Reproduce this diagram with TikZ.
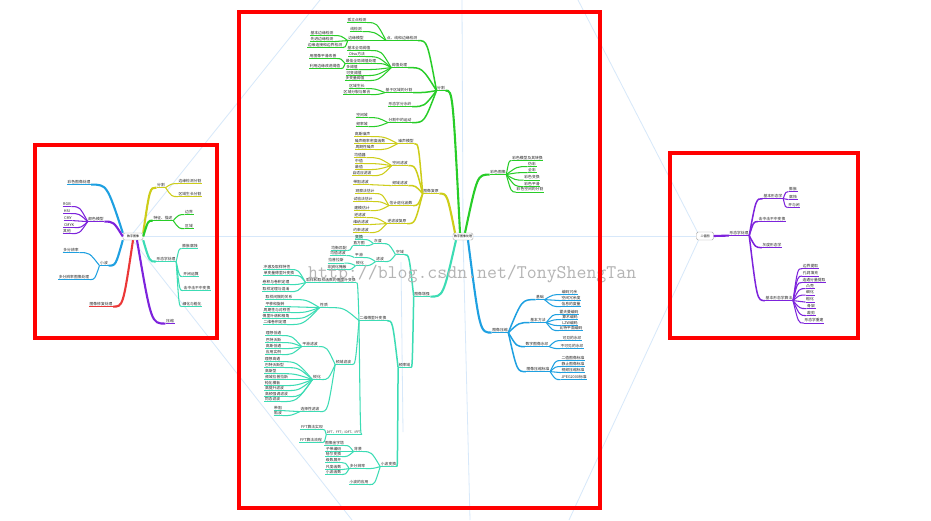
\documentclass[tikz,border=0pt]{standalone}
\usepackage{fontspec}
\usepackage{tikz}
\usetikzlibrary{calc}
\newfontfamily\cjk{Noto Sans CJK SC}
\newcommand\tpfont{\cjk\fontsize{3.8}{4}\selectfont}
\newcommand\rtfont{\cjk\fontsize{3}{3.5}\selectfont}
\definecolor{cgrn}{RGB}{40,205,40}
\definecolor{cyel}{RGB}{205,205,25}
\definecolor{ctea}{RGB}{60,220,180}
\definecolor{cblu}{RGB}{30,160,225}
\definecolor{cpur}{RGB}{125,35,220}
\definecolor{cred}{RGB}{235,55,55}
\definecolor{cwat}{RGB}{215,232,250}
\definecolor{cwmk}{RGB}{180,180,180}
\definecolor{cfrm}{RGB}{255,0,0}
\tikzset{
	tp/.style={inner sep=0.5pt, text height=3.2pt, text depth=0.6pt, font=\tpfont, text=black!85,
		append after command={(\tikzlastnode.south west) edge[draw=#1, line width=1.1pt] (\tikzlastnode.south east)}},
	rbox/.style={draw=black!35, fill=white, rounded corners=1.5pt, font=\rtfont, inner sep=1pt, minimum width=20pt, minimum height=7pt},
	ln/.style={draw=#1, line width=1.05pt},
	lm/.style={draw=#1, line width=1.5pt},
	lr/.style={draw=#1, line width=2.1pt},
	fan/.style={to path={let \p1=(\tikztostart), \p2=(\tikztotarget) in .. controls ({\x1+#1*(\x2-\x1)},\y2) .. (\tikztotarget)}},
	fan/.default=0.5,
	wm/.style={draw=cwat, line width=0.8pt},
	frm/.style={draw=cfrm, line width=4pt}
}
\begin{document}
\begin{tikzpicture}[x=1pt,y=-1pt]
	\fill[white] (0,0) rectangle (931,520);
	\useasboundingbox (0,0) rectangle (931,520);
	\draw[wm] (143,236) -- (696,236);
	\draw[wm] (462,0) -- (463,236) -- (470,520);
	\draw[wm] (401,262) -- (403,432);
	\draw[wm] (320,0) -- (130,237) -- (352,520);
	\draw[wm] (578,0) -- (700,237) -- (569,520);

	\node[rbox] (lrt) at (133,236.5) {数字图像};
	\node[tp=cyel] (lfg) at (161,185) {分割};
	\node[tp=cyel] (lby) at (190,181) {边缘检测分割};
	\node[tp=cyel] (lqy) at (190,194) {区域生长分割};
	\node[tp=cgrn] (ltz) at (163,218) {特征、描述};
	\node[tp=cgrn] (lbj) at (189,212) {边界};
	\node[tp=cgrn] (lqu) at (189,226) {区域};
	\node[tp=ctea] (lxt) at (166,259) {形态学处理};
	\node[tp=ctea] (lpz) at (190,246) {膨胀腐蚀};
	\node[tp=ctea] (lkb) at (191,274) {开闭运算};
	\node[tp=ctea] (ljz) at (197,288) {击中击不中变换};
	\node[tp=ctea] (ltq) at (192,304) {细化与粗化};
	\node[tp=cpur] (lys) at (170,321) {压缩};
	\node[tp=cblu] (lcs) at (79,182) {彩色图像处理};
	\node[tp=cpur] (lmx) at (96,219) {颜色模型};
	\node[tp=cpur] (lm1) at (67,204) {RGB};
	\node[tp=cpur] (lm2) at (67,211) {HSI};
	\node[tp=cpur] (lm3) at (68,218) {CMY};
	\node[tp=cpur] (lm4) at (69,225) {CMYK};
	\node[tp=cpur] (lm5) at (67,231) {其他};
	\node[tp=cblu] (lxb) at (104,263) {小波};
	\node[tp=cblu] (lx1) at (71,250) {多分辨率};
	\node[tp=cblu] (lx2) at (74,277) {多分辨率图像处理};
	\node[tp=cred] (lxf) at (101,304) {图像修复处理};

	\node[rbox, minimum width=17pt, minimum height=8pt] (rrt) at (705,236) {二值图};
	\node[tp=cpur] (rxt) at (739,233) {形态学处理};
	\node[tp=cpur] (rjb) at (773,196) {基本形态学};
	\node[tp=cpur] (rpz) at (793,189) {膨胀};
	\node[tp=cpur] (rfs) at (793,197) {腐蚀};
	\node[tp=cpur] (rkb) at (794,205) {开与闭};
	\node[tp=cpur] (rjz) at (772,219) {击中击不中变换};
	\node[tp=cpur] (rbt) at (772,245) {灰度形态学};
	\node[tp=cpur] (rsf) at (779,298) {基本形态学算法};
	\node[tp=cpur] (rs1) at (810.5,266) {边界提取};
	\node[tp=cpur] (rs2) at (810.5,273.5) {孔洞填充};
	\node[tp=cpur] (rs3) at (814,280) {连通分量提取};
	\node[tp=cpur] (rs4) at (810,286) {凸壳};
	\node[tp=cpur] (rs5) at (810,292.5) {细化};
	\node[tp=cpur] (rs6) at (810,299.5) {粗化};
	\node[tp=cpur] (rs7) at (811,306) {骨架};
	\node[tp=cpur] (rs8) at (811,313) {裁剪};
	\node[tp=cpur] (rs9) at (814,320.5) {形态学重建};

	\node[rbox] (crt) at (463,236.5) {数字图像处理};
	\node[tp=cgrn] (cfg) at (441,88) {分割};
	\node[tp=cgrn] (cdx) at (402,38) {点、线和边缘检测};
	\node[tp=cgrn] (cgl) at (357,20) {孤立点检测};
	\node[tp=cgrn] (cxj) at (356,29) {线检测};
	\node[tp=cgrn] (cby) at (356,38) {边缘模型};
	\node[tp=cgrn] (cb1) at (322,33) {基本边缘检测};
	\node[tp=cgrn] (cb2) at (322,39) {先进边缘检测};
	\node[tp=cgrn] (cb3) at (325,45) {边缘连接和边界检测};
	\node[tp=cgrn] (cyz) at (399.5,65) {阈值处理};
	\node[tp=cgrn] (cy1) at (359,48) {基本全局阈值};
	\node[tp=cgrn] (cy2) at (357,54) {Otsu方法};
	\node[tp=cgrn] (cy3) at (361,61) {最佳全局阈值处理};
	\node[tp=cgrn] (cy4) at (323,56) {用图像平滑改善};
	\node[tp=cgrn] (cy5) at (325,66) {利用边缘改进阈值};
	\node[tp=cgrn] (cy6) at (352,67) {多阈值};
	\node[tp=cgrn] (cy7) at (354,73) {可变阈值};
	\node[tp=cgrn] (cy8) at (355,78) {多变量阈值};
	\node[tp=cgrn] (cqy) at (399,90) {基于区域的分割};
	\node[tp=cgrn] (cq1) at (357,86) {区域生长};
	\node[tp=cgrn] (cq2) at (357,92) {区域分裂与聚合};
	\node[tp=cgrn] (cfs) at (400,104) {形态学分水岭};
	\node[tp=cgrn] (cyd) at (400,120) {分割中的运动};
	\node[tp=cgrn] (cd1) at (362,115) {空间域};
	\node[tp=cgrn] (cd2) at (362,124) {频率域};

	\node[tp=cyel] (cfy) at (431,191) {图像复原};
	\node[tp=cyel] (cz0) at (406,141) {噪声模型};
	\node[tp=cyel] (cz1) at (362.5,134) {高斯噪声};
	\node[tp=cyel] (cz2) at (370,141) {噪声概率密度函数};
	\node[tp=cyel] (cz3) at (365,147) {周期性噪声};
	\node[tp=cyel] (cz4) at (400,163) {空间滤波};
	\node[tp=cyel] (cz5) at (360,155) {均值器};
	\node[tp=cyel] (cz6) at (359,161) {中值};
	\node[tp=cyel] (cz7) at (359,167) {最值};
	\node[tp=cyel] (cz8) at (362,173) {自适应滤波};
	\node[tp=cyel] (czp) at (400,183) {频域滤波};
	\node[tp=cyel] (cz9) at (361,182) {带阻滤波};
	\node[tp=cyel] (czg) at (401,203) {估计退化函数};
	\node[tp=cyel] (cg1) at (365,191) {观察法估计};
	\node[tp=cyel] (cg2) at (363,199) {试验法估计};
	\node[tp=cyel] (cg3) at (362,208) {建模估计};
	\node[tp=cyel] (cnl) at (397,221) {逆滤波复原};
	\node[tp=cyel] (cn1) at (360,215) {逆滤波};
	\node[tp=cyel] (cn2) at (361,222) {维纳滤波};
	\node[tp=cyel] (cn3) at (361,230) {约束滤波};

	\node[tp=ctea] (czq) at (422,294) {图像增强};
	\node[tp=ctea] (ckd) at (400,252) {空域};
	\node[tp=ctea] (chd) at (378,241) {灰度};
	\node[tp=ctea, fill=ctea!35] (ch1) at (359,237) {变换};
	\node[tp=ctea] (ch2) at (359,243) {直方图};
	\node[tp=ctea] (ch3) at (339,248) {均衡匹配};
	\node[tp=ctea] (clb) at (380,259) {滤波};
	\node[tp=ctea] (cph) at (359,255) {平滑};
	\node[tp=ctea] (cp1) at (338,253) {均值滤波};
	\node[tp=ctea] (crh) at (360,263) {锐化};
	\node[tp=ctea] (cr1) at (336,260.5) {拉普拉斯};
	\node[tp=ctea] (cr2) at (337,267) {非锐化掩蔽};
	\node[tp=ctea] (cpy) at (404.5,365) {频率域};
	\node[tp=ctea] (cef) at (373,318) {二维傅里叶变换};
	\node[tp=ctea] (ccy) at (331,280) {取样和取样函数的傅里叶变换};
	\node[tp=ctea] (cc1) at (277,267) {冲激及取样特性};
	\node[tp=ctea] (cc2) at (279,273) {单变量傅里叶变换};
	\node[tp=ctea] (cc3) at (276,282) {卷积与卷积定理};
	\node[tp=ctea] (cc4) at (276,289) {取样定理与混淆};
	\node[tp=ctea] (cxz) at (324,305) {性质};
	\node[tp=ctea] (cx1) at (279,297) {取样间隔的关系};
	\node[tp=ctea] (cx2) at (275,304) {平移和旋转};
	\node[tp=ctea] (cx3) at (277,310) {周期性与对称性};
	\node[tp=ctea] (cx4) at (276,316) {傅里叶谱和相角};
	\node[tp=ctea] (cx5) at (275,322) {二维卷积定理};
	\node[tp=ctea] (clt) at (343.5,362) {频域滤波};
	\node[tp=ctea] (cfp) at (310,344) {平滑滤波};
	\node[tp=ctea] (cf1) at (273.5,333) {理想低通};
	\node[tp=ctea] (cf2) at (273.5,340) {巴特沃斯};
	\node[tp=ctea] (cf3) at (273.5,346) {高斯低通};
	\node[tp=ctea] (cf4) at (273.5,352) {应用实例};
	\node[tp=ctea] (cfr) at (317,377) {锐化};
	\node[tp=ctea] (cs1) at (272.5,359) {理想高通};
	\node[tp=ctea] (cs2) at (274.5,365) {巴特沃斯型};
	\node[tp=ctea] (cs3) at (270.7,371) {高斯型};
	\node[tp=ctea] (cs4) at (276.5,377) {频域拉普拉斯};
	\node[tp=ctea] (cs5) at (272.5,383) {钝化模板};
	\node[tp=ctea] (cs6) at (274.5,388) {高提升滤波};
	\node[tp=ctea] (cs7) at (276.5,394) {高频强调滤波};
	\node[tp=ctea] (cs8) at (272.5,399) {同态滤波};
	\node[tp=ctea] (cxx) at (310,409) {选择性滤波};
	\node[tp=ctea] (cv1) at (278,408) {带阻};
	\node[tp=ctea] (cv2) at (278,413) {陷波};
	\node[tp=ctea, font=\cjk\fontsize{3.2}{3.5}\selectfont] (cdf) at (344,432) {DFT、FFT；IDFT、IFFT};
	\node[tp=ctea] (ft1) at (312,427) {FFT算法实现};
	\node[tp=ctea] (ft2) at (311,440) {FFT算法流程};
	\node[tp=ctea] (cxb) at (388.5,464) {小波变换};
	\node[tp=ctea] (cbj) at (358,449) {背景};
	\node[tp=ctea] (cw1) at (334.5,443) {图像金字塔};
	\node[tp=ctea] (cw2) at (333.5,449) {子带编码};
	\node[tp=ctea] (cw3) at (333.5,454) {哈尔变换};
	\node[tp=ctea] (cdb) at (357.5,466) {多分辨率};
	\node[tp=ctea] (cw4) at (333.5,460) {级数展开};
	\node[tp=ctea] (cw5) at (333.5,467) {尺度函数};
	\node[tp=ctea] (cw6) at (333.5,472) {小波函数};
	\node[tp=ctea] (cyy) at (359,482) {小波的应用};

	\node[tp=cgrn] (ccs) at (498,172) {彩色图像};
	\node[tp=cgrn] (cl1) at (527.5,158) {彩色模型及其转换};
	\node[tp=cgrn] (cl2) at (532,164) {伪彩};
	\node[tp=cgrn] (cl3) at (532,170) {全彩};
	\node[tp=cgrn] (cl4) at (532,177.5) {彩色变换};
	\node[tp=cgrn] (cl5) at (532,184) {彩色平滑};
	\node[tp=cgrn] (cl6) at (530,189.5) {彩色空间的分割};

	\node[tp=cblu] (cys) at (500,330) {图像压缩};
	\node[tp=cblu] (cjc) at (540,297) {基础};
	\node[tp=cblu] (cj1) at (569.5,292) {编码冗余};
	\node[tp=cblu] (cj2) at (571,298) {空间冗余度};
	\node[tp=cblu] (cj3) at (571,304) {信息的度量};
	\node[tp=cblu] (cff) at (538,320) {基本方法};
	\node[tp=cblu] (cm1) at (569,312) {霍夫曼编码};
	\node[tp=cblu] (cm2) at (570,317) {算术编码};
	\node[tp=cblu] (cm3) at (570,323) {LZW编码};
	\node[tp=cblu] (cm4) at (571,328) {比特平面编码};
	\node[tp=cblu] (csy) at (537,344) {数字图像水印};
	\node[tp=cblu] (sy1) at (572,338) {可见的水印};
	\node[tp=cblu] (sy2) at (572,346) {不可见的水印};
	\node[tp=cblu] (cbz) at (538,369) {图像压缩标准};
	\node[tp=cblu] (bz1) at (573,358) {二值图像标准};
	\node[tp=cblu] (bz2) at (573,364) {静止图像标准};
	\node[tp=cblu] (bz3) at (573,370) {视频压缩标准};
	\node[tp=cblu] (bz4) at (574,377) {JPEG2000标准};

	\draw[lr=cyel] (lrt.north east) to[fan] (lfg.south west);
	\draw[lr=cgrn] (lrt.east) to[fan] (ltz.south west);
	\draw[lr=ctea] (lrt.south east) to[fan] (lxt.south west);
	\draw[lr=cpur] ([xshift=4pt]lrt.south) to[fan] (lys.south west);
	\draw[lr=cblu] (lrt.north west) to[fan] (lcs.south east);
	\draw[lr=cpur] (lrt.west) to[fan] (lmx.south east);
	\draw[lr=cblu] (lrt.south west) to[fan] (lxb.south east);
	\draw[lr=cred] (lrt.south) to[fan] (lxf.south east);
	\foreach \c in {lby,lqy} \draw[ln=cyel] (lfg.south east) to[fan] (\c.south west);
	\foreach \c in {lbj,lqu} \draw[ln=cgrn] (ltz.south east) to[fan] (\c.south west);
	\foreach \c in {lpz,lkb,ljz,ltq} \draw[ln=ctea] (lxt.south east) to[fan] (\c.south west);
	\foreach \c in {lm1,lm2,lm3,lm4,lm5} \draw[ln=cpur] (lmx.south west) to[fan] (\c.south east);
	\foreach \c in {lx1,lx2} \draw[ln=cblu] (lxb.south west) to[fan] (\c.south east);

	\draw[lr=cpur] (rrt.east) -- (rxt.south west);
	\foreach \c in {rjb,rjz,rbt,rsf} \draw[lm=cpur] (rxt.south east) to[fan] (\c.south west);
	\foreach \c in {rpz,rfs,rkb} \draw[ln=cpur] (rjb.south east) to[fan] (\c.south west);
	\foreach \c in {rs1,rs2,rs3,rs4,rs5,rs6,rs7,rs8,rs9} \draw[ln=cpur] (rsf.south east) to[fan] (\c.south west);

	\draw[lr=cgrn] ([xshift=-3pt]crt.north) to[fan] (cfg.south east);
	\draw[lr=cyel] ([xshift=-8pt]crt.north) to[fan] (cfy.south east);
	\draw[lr=ctea] ([xshift=-7pt]crt.south) to[fan] (czq.south east);
	\draw[lr=cgrn] ([xshift=2pt]crt.north) to[fan] (ccs.south west);
	\draw[lr=cblu] ([xshift=5pt]crt.south) to[fan] (cys.south west);

	\foreach \c in {cdx,cyz,cqy,cfs,cyd} \draw[lm=cgrn] (cfg.south west) to[fan] (\c.south east);
	\foreach \c in {cgl,cxj,cby} \draw[ln=cgrn] (cdx.south west) to[fan] (\c.south east);
	\foreach \c in {cb1,cb2,cb3} \draw[ln=cgrn] (cby.south west) to[fan] (\c.south east);
	\foreach \c in {cy1,cy2,cy3,cy6,cy7,cy8} \draw[ln=cgrn] (cyz.south west) to[fan] (\c.south east);
	\foreach \c in {cy4,cy5} \draw[ln=cgrn] (cy3.south west) to[fan] (\c.south east);
	\foreach \c in {cq1,cq2} \draw[ln=cgrn] (cqy.south west) to[fan] (\c.south east);
	\foreach \c in {cd1,cd2} \draw[ln=cgrn] (cyd.south west) to[fan] (\c.south east);

	\foreach \c in {cz0,cz4,czp,czg,cnl} \draw[lm=cyel] (cfy.south west) to[fan] (\c.south east);
	\foreach \c in {cz1,cz2,cz3} \draw[ln=cyel] (cz0.south west) to[fan] (\c.south east);
	\foreach \c in {cz5,cz6,cz7,cz8} \draw[ln=cyel] (cz4.south west) to[fan] (\c.south east);
	\draw[ln=cyel] (czp.south west) to[fan] (cz9.south east);
	\foreach \c in {cg1,cg2,cg3} \draw[ln=cyel] (czg.south west) to[fan] (\c.south east);
	\foreach \c in {cn1,cn2,cn3} \draw[ln=cyel] (cnl.south west) to[fan] (\c.south east);

	\foreach \c in {ckd,cpy} \draw[lm=ctea] (czq.south west) to[fan] (\c.south east);
	\foreach \c in {chd,clb} \draw[ln=ctea] (ckd.south west) to[fan] (\c.south east);
	\foreach \c in {ch1,ch2} \draw[ln=ctea] (chd.south west) to[fan] (\c.south east);
	\draw[ln=ctea] (ch2.south west) to[fan] (ch3.south east);
	\foreach \c in {cph,crh} \draw[ln=ctea] (clb.south west) to[fan] (\c.south east);
	\draw[ln=ctea] (cph.south west) to[fan] (cp1.south east);
	\foreach \c in {cr1,cr2} \draw[ln=ctea] (crh.south west) to[fan] (\c.south east);
	\foreach \c in {cef,cxb} \draw[lm=ctea] (cpy.south west) to[fan] (\c.south east);
	\foreach \c in {ccy,cxz,clt,cdf} \draw[ln=ctea] (cef.south west) to[fan] (\c.south east);
	\foreach \c in {cc1,cc2,cc3,cc4} \draw[ln=ctea] (ccy.south west) to[fan] (\c.south east);
	\foreach \c in {cx1,cx2,cx3,cx4,cx5} \draw[ln=ctea] (cxz.south west) to[fan] (\c.south east);
	\foreach \c in {cfp,cfr,cxx} \draw[ln=ctea] (clt.south west) to[fan] (\c.south east);
	\foreach \c in {cf1,cf2,cf3,cf4} \draw[ln=ctea] (cfp.south west) to[fan] (\c.south east);
	\foreach \c in {cs1,cs2,cs3,cs4,cs5,cs6,cs7,cs8} \draw[ln=ctea] (cfr.south west) to[fan] (\c.south east);
	\foreach \c in {cv1,cv2} \draw[ln=ctea] (cxx.south west) to[fan] (\c.south east);
	\foreach \c in {ft1,ft2} \draw[ln=ctea] (cdf.south west) to[fan] (\c.south east);
	\foreach \c in {cbj,cdb,cyy} \draw[ln=ctea] (cxb.south west) to[fan] (\c.south east);
	\foreach \c in {cw1,cw2,cw3} \draw[ln=ctea] (cbj.south west) to[fan] (\c.south east);
	\foreach \c in {cw4,cw5,cw6} \draw[ln=ctea] (cdb.south west) to[fan] (\c.south east);

	\foreach \c in {cl1,cl2,cl3,cl4,cl5,cl6} \draw[ln=cgrn] (ccs.south east) to[fan] (\c.south west);
	\foreach \c in {cjc,cff,csy,cbz} \draw[lm=cblu] (cys.south east) to[fan] (\c.south west);
	\foreach \c in {cj1,cj2,cj3} \draw[ln=cblu] (cjc.south east) to[fan] (\c.south west);
	\foreach \c in {cm1,cm2,cm3,cm4} \draw[ln=cblu] (cff.south east) to[fan] (\c.south west);
	\foreach \c in {sy1,sy2} \draw[ln=cblu] (csy.south east) to[fan] (\c.south west);
	\foreach \c in {bz1,bz2,bz3,bz4} \draw[ln=cblu] (cbz.south east) to[fan] (\c.south west);

	\node[anchor=base west, inner sep=0pt, font=\ttfamily\fontsize{19.3}{20}\selectfont, text=cwmk] (url) at (308,278) {http://blog.csdn.net/TonyShengTan};

	\draw[frm] (35,145) rectangle (217,338);
	\draw[frm] (239,12) rectangle (600,508);
	\draw[frm] (670,153) rectangle (858,338);
\end{tikzpicture}
\end{document}
